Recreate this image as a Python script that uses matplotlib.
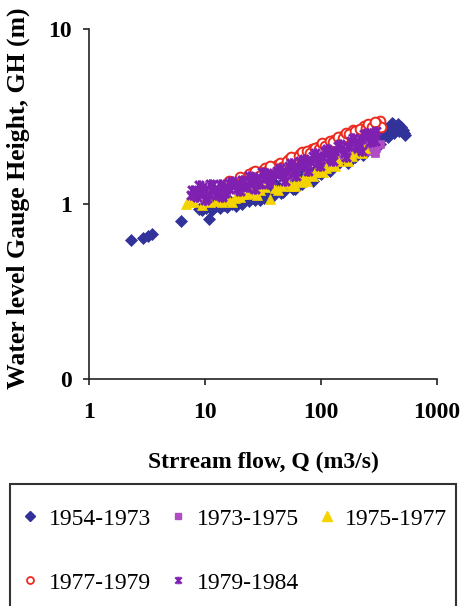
import matplotlib
matplotlib.use("Agg")
import matplotlib.pyplot as plt
from matplotlib.path import Path
from matplotlib.patches import Rectangle
from matplotlib.lines import Line2D

# ---------------- data ----------------
series_labels = ["1954-1973", "1973-1975", "1975-1977", "1977-1979", "1979-1984"]

q_1954 = [2.3, 2.9, 3.2, 3.5, 6.2, 10.8, 8.8, 9.5, 10.2, 11.5, 12.5, 13.5, 14.5, 15.5, 17, 18.5,
          20, 22, 24, 26, 28, 31, 34, 37, 41, 45, 50, 55, 60, 66, 72, 80, 88, 96, 105, 115,
          125, 135, 148, 160, 175, 190, 205, 220, 240, 260, 280, 300, 330, 360, 390, 420,
          450, 480, 510, 530, 470, 440, 400, 370, 340, 310, 250, 200, 150, 110, 70, 40, 25,
          12, 14, 16, 19, 21, 23, 27, 29, 32, 35, 38, 43, 47, 53, 57, 63, 68, 76, 84, 92,
          100, 108, 118, 128, 140, 155, 168, 180, 195, 210, 230, 245, 270, 290, 320, 350,
          380, 410, 430, 460, 490, 520, 505, 30, 45, 60, 85, 120, 170, 230, 300]
gh_1954 = [0.62, 0.64, 0.66, 0.67, 0.80, 0.82, 0.94, 0.92, 0.95, 0.93, 0.97, 0.95, 0.99, 0.96,
           1.00, 0.98, 1.03, 1.05, 1.04, 1.08, 1.10, 1.12, 1.15, 1.14, 1.18, 1.22, 1.25, 1.27,
           1.32, 1.35, 1.40, 1.45, 1.50, 1.55, 1.60, 1.66, 1.72, 1.76, 1.80, 1.84, 1.88, 1.92,
           1.98, 2.05, 2.12, 2.20, 2.30, 2.40, 2.52, 2.65, 2.76, 2.85, 2.80, 2.70, 2.58, 2.48,
           2.62, 2.72, 2.60, 2.50, 2.40, 2.30, 2.30, 2.10, 1.90, 1.75, 1.50, 1.30, 1.15,
           1.00, 1.03, 1.05, 1.07, 1.00, 1.10, 1.05, 1.15, 1.08, 1.20, 1.10, 1.25, 1.17, 1.32,
           1.22, 1.38, 1.30, 1.50, 1.40, 1.60, 1.48, 1.68, 1.58, 1.80, 1.70, 1.95, 1.80, 2.05,
           1.85, 2.15, 1.95, 2.35, 2.10, 2.50, 2.20, 2.75, 2.40, 2.90, 2.55, 2.85, 2.75, 2.55,
           2.65, 1.05, 1.15, 1.22, 1.35, 1.55, 1.72, 1.90, 2.10]

q_1973 = [18, 22, 27, 33, 40, 48, 58, 70, 85, 100, 120, 140, 165, 190, 220, 250, 280, 300,
          260, 230, 200, 150, 20, 25, 30, 36, 44, 52, 64, 76, 92, 110, 130, 155, 180, 210,
          240, 270, 320, 290]
gh_1973 = [1.28, 1.30, 1.35, 1.40, 1.48, 1.52, 1.60, 1.68, 1.75, 1.82, 1.88, 1.95, 2.00, 2.05,
           2.12, 2.20, 2.28, 2.10, 2.00, 1.95, 1.92, 1.85, 1.35, 1.28, 1.45, 1.35, 1.55, 1.45,
           1.70, 1.58, 1.85, 1.75, 2.00, 1.90, 2.15, 2.00, 2.30, 2.10, 2.20, 1.95]

q_1975 = [6.8, 7.3, 9.5, 11, 12.5, 14, 16, 18, 20, 23, 26, 30, 36, 40, 46, 52, 58, 65, 72, 80,
          88, 95, 110, 125, 140, 160, 185, 210, 240, 60, 75, 8, 13, 17, 21, 28, 33, 43, 55,
          68, 85, 105, 132, 170, 225]
gh_1975 = [1.00, 1.03, 0.99, 1.02, 1.04, 1.03, 1.06, 1.08, 1.10, 1.14, 1.16, 1.20, 1.07, 1.23,
           1.27, 1.31, 1.30, 1.37, 1.43, 1.48, 1.53, 1.58, 1.61, 1.68, 1.75, 1.82, 1.89, 1.98,
           2.08, 1.27, 1.35, 1.02, 1.07, 1.02, 1.14, 1.12, 1.25, 1.21, 1.26, 1.33, 1.44, 1.53,
           1.64, 1.77, 1.96]

q_1977 = [15, 16.5, 19, 22, 25, 28, 31, 35, 40, 45, 50, 56, 62, 70, 78, 86, 95, 105, 118, 130,
          145, 160, 180, 200, 225, 250, 280, 320, 240, 190, 140, 110, 80, 60, 32, 16, 18, 20,
          23, 26, 30, 33, 38, 42, 48, 53, 58, 66, 74, 83, 90, 100, 112, 125, 135, 150, 170,
          190, 210, 235, 265, 300, 330, 17, 21, 24, 27, 29, 34, 36, 44, 46, 51, 55, 64, 68,
          76, 81, 88, 96, 102, 108, 120, 128, 140, 155, 165, 175, 195, 215, 245, 255, 275, 290]
gh_1977 = [1.20, 1.28, 1.32, 1.38, 1.45, 1.50, 1.55, 1.58, 1.62, 1.68, 1.72, 1.78, 1.85, 1.92,
           1.98, 2.05, 2.12, 2.18, 2.25, 2.32, 2.40, 2.48, 2.55, 2.62, 2.68, 2.75, 2.85, 2.98,
           2.60, 2.45, 2.30, 2.15, 1.90, 1.75, 1.48, 1.35, 1.25, 1.42, 1.33, 1.52, 1.42, 1.60,
           1.52, 1.68, 1.62, 1.80, 1.70, 1.92, 1.82, 2.05, 1.95, 2.15, 2.08, 2.25, 2.20, 2.42,
           2.40, 2.65, 2.50, 2.78, 2.60, 2.90, 2.75, 1.30, 1.36, 1.48, 1.55, 1.45, 1.55, 1.65,
           1.72, 1.62, 1.76, 1.85, 1.88, 1.98, 2.00, 1.95, 2.10, 2.05, 2.22, 2.15, 2.28, 2.25,
           2.42, 2.38, 2.55, 2.50, 2.60, 2.68, 2.72, 2.85, 2.75, 2.95]

q_1979 = [7.5, 8.2, 9, 10, 11, 12, 13, 14.5, 16, 18, 20, 22, 25, 28, 32, 36, 40, 45, 50, 56, 63,
          70, 80, 90, 100, 115, 130, 150, 170, 195, 220, 250, 280, 30, 60, 120, 200, 7.8, 8.5,
          9.5, 10.5, 11.5, 12.5, 13.5, 15, 17, 19, 21, 23, 26, 29, 34, 38, 42, 47, 53, 58, 66,
          75, 85, 95, 108, 122, 140, 160, 180, 210, 235, 265, 300, 8.8, 10, 11, 14, 16, 20,
          24, 27, 31, 35, 44, 49, 55, 61, 72, 78, 88, 98, 112, 128, 145, 165, 190, 225, 250, 290]
gh_1979 = [1.12, 1.18, 1.15, 1.20, 1.14, 1.22, 1.18, 1.25, 1.22, 1.28, 1.30, 1.27, 1.33, 1.38,
           1.40, 1.45, 1.48, 1.50, 1.55, 1.60, 1.65, 1.70, 1.75, 1.82, 1.88, 1.95, 2.00, 2.08,
           2.15, 2.25, 2.35, 2.45, 2.55, 1.32, 1.55, 1.85, 2.15, 1.20, 1.10, 1.25, 1.08, 1.28,
           1.12, 1.30, 1.15, 1.35, 1.22, 1.38, 1.25, 1.42, 1.30, 1.50, 1.38, 1.55, 1.42, 1.65,
           1.50, 1.75, 1.62, 1.88, 1.72, 2.00, 1.80, 2.15, 1.95, 2.30, 2.10, 2.50, 2.25, 2.60,
           1.28, 1.05, 1.30, 1.10, 1.32, 1.18, 1.45, 1.22, 1.52, 1.30, 1.60, 1.35, 1.72, 1.45,
           1.80, 1.55, 1.95, 1.65, 2.05, 1.75, 2.20, 1.85, 2.38, 2.00, 2.55, 2.30]

x_ticks = [1, 10, 100, 1000]
x_tick_labels = ["1", "10", "100", "1000"]
y_ticks = [0.1, 1, 10]
y_tick_labels = ["0", "1", "10"]

# ---------------- style ----------------
serif = ["Liberation Serif", "DejaVu Serif"]
plt.rcParams["font.family"] = serif

c_blue = "#31339A"
c_mag = "#B04CC4"
c_yel = "#F5D300"
c_red = "#EE2A1E"
c_pur = "#8020B0"

star = Path([(-1, -1), (1, 1), (-1, 1), (1, -1), (0, -1.2), (0, 1.2)],
            [Path.MOVETO, Path.LINETO, Path.MOVETO, Path.LINETO, Path.MOVETO, Path.LINETO])

W, H = 463, 606
fig = plt.figure(figsize=(W / 100, H / 100), dpi=100)
ax = fig.add_axes([89 / W, 1 - 379 / H, (437 - 89) / W, (379 - 29) / H])

ax.plot(q_1954, gh_1954, ls="none", marker="D", ms=6.5, mfc=c_blue, mec=c_blue, mew=0.5)
ax.plot(q_1973, gh_1973, ls="none", marker="s", ms=6, mfc=c_mag, mec=c_mag, mew=0.5)
ax.plot(q_1975, gh_1975, ls="none", marker="^", ms=7.5, mfc=c_yel, mec=c_yel, mew=0.5)
ax.plot(q_1977, gh_1977, ls="none", marker="o", ms=7, mfc="white", mec=c_red, mew=1.4)
ax.plot(q_1979, gh_1979, ls="none", marker=star, ms=7.5, mfc="none", mec=c_pur, mew=2.2)

ax.set_xscale("log")
ax.set_yscale("log")
ax.set_xlim(1, 1000)
ax.set_ylim(0.1, 10)
ax.minorticks_off()
ax.set_xticks(x_ticks)
ax.set_xticklabels(x_tick_labels)
ax.set_yticks(y_ticks)
ax.set_yticklabels(y_tick_labels)

for s in ["top", "right"]:
    ax.spines[s].set_visible(False)
for s in ["left", "bottom"]:
    ax.spines[s].set_color("#222222")
    ax.spines[s].set_linewidth(1.2)

ax.tick_params(axis="both", direction="out", length=4.5, width=1.2, color="#222222",
               labelsize=17)
ax.tick_params(axis="x", pad=12)
ax.tick_params(axis="y", pad=8)
for lab in ax.get_xticklabels() + ax.get_yticklabels():
    lab.set_fontweight("bold")

ax.set_xlabel("Strream flow, Q (m3/s)", fontsize=17, fontweight="bold")
ax.set_ylabel("Water level Gauge Height, GH (m)", fontsize=18.5, fontweight="bold")
ax.xaxis.set_label_coords(0.5, -(452 - 379) / 350, transform=ax.transAxes)
ax.yaxis.set_label_coords(-(89 - 30) / 348, (379 - 198) / 350, transform=ax.transAxes)

# ---------------- legend ----------------
fig.patches.append(Rectangle((10 / W, -0.05), (456 - 10) / W, 0.05 + 1 - 484 / H,
                             transform=fig.transFigure, fill=False, ec="#333333", lw=1.5))

handles = [
    Line2D([], [], ls="none", marker="D", ms=5, mfc=c_blue, mec=c_blue),
    Line2D([], [], ls="none", marker="s", ms=5, mfc=c_mag, mec=c_mag),
    Line2D([], [], ls="none", marker="^", ms=6.5, mfc=c_yel, mec=c_yel),
    Line2D([], [], ls="none", marker="o", ms=5, mfc="white", mec=c_red, mew=1.3),
    Line2D([], [], ls="none", marker=star, ms=5.5, mfc="none", mec=c_pur, mew=1.6),
]
order = [0, 3, 1, 4, 2]  # row-wise filling like the original
fig.legend([handles[i] for i in order], [series_labels[i] for i in order], ncol=3,
           loc="upper left", bbox_to_anchor=(20.5 / W, 1 - 508 / H), frameon=False,
           fontsize=17, borderpad=0, borderaxespad=0, handlelength=0.8,
           handletextpad=0.4, columnspacing=0.75, labelspacing=1.8)

fig.savefig("out.png", dpi=100)
